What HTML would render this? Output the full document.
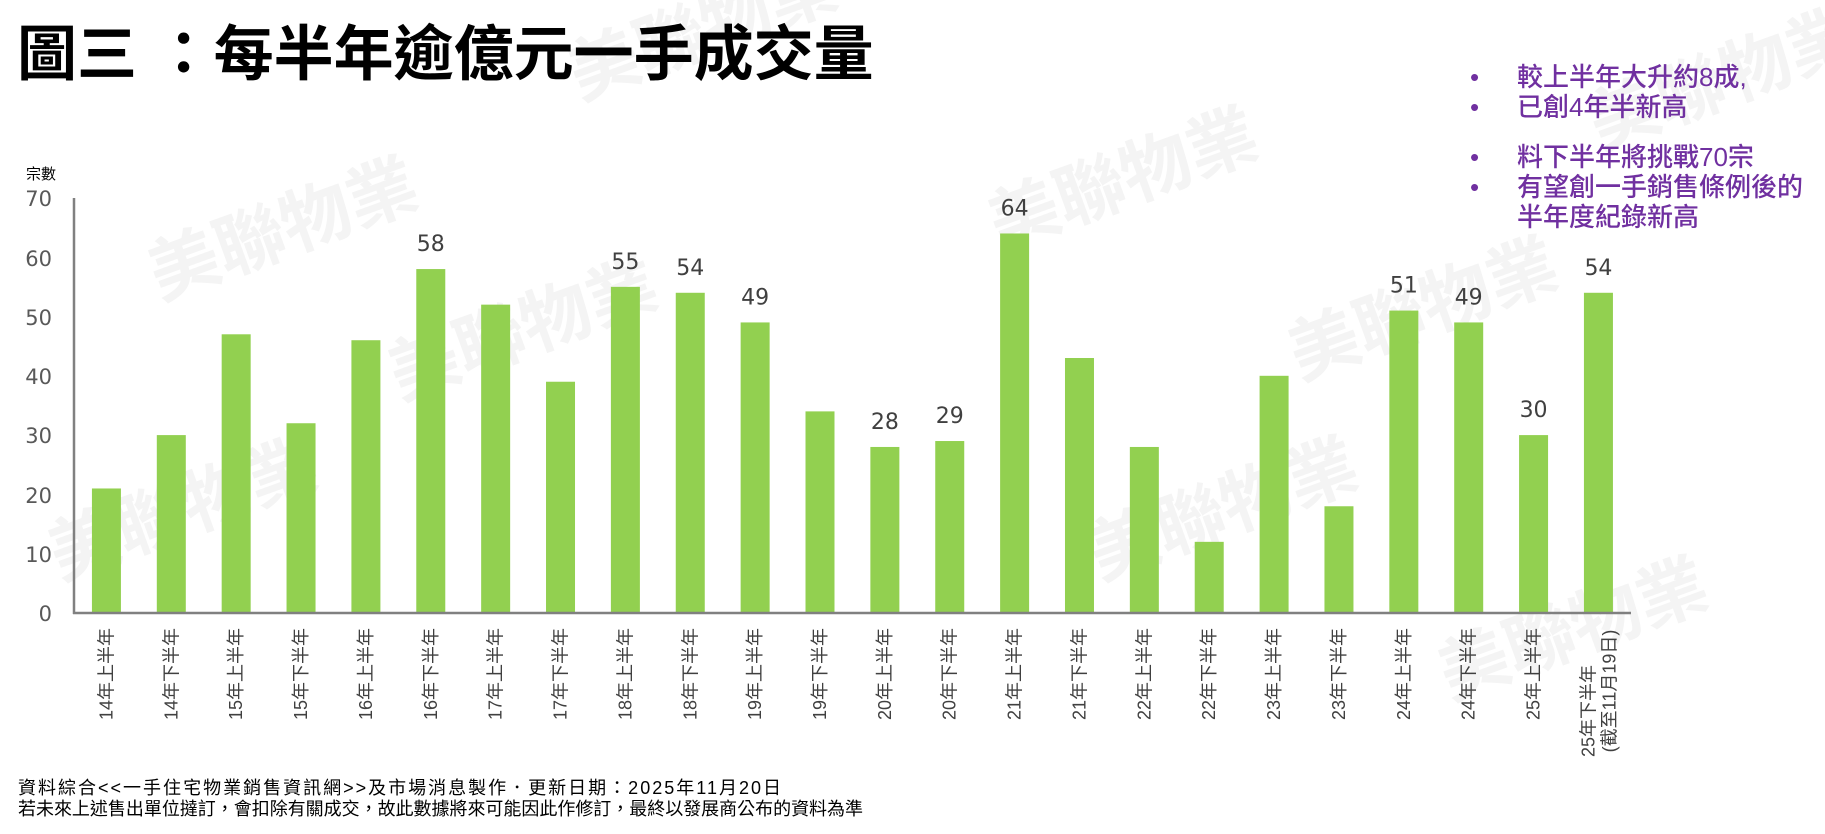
<!DOCTYPE html>
<html><head><meta charset="utf-8"><style>
body{margin:0;width:1825px;height:834px;background:#fff;overflow:hidden;font-family:"Liberation Sans","Noto Sans CJK TC",sans-serif;}
</style></head><body>
<svg width="1825" height="834" xmlns="http://www.w3.org/2000/svg" style="position:absolute;left:0;top:0">
<g fill="#f4f4f4" font-family="Liberation Sans, Noto Sans CJK TC, sans-serif" font-weight="bold" font-size="70">
<text transform="translate(160,300) rotate(-20)">美聯物業</text>
<text transform="translate(580,100) rotate(-20)">美聯物業</text>
<text transform="translate(1000,250) rotate(-20)">美聯物業</text>
<text transform="translate(1300,380) rotate(-20)">美聯物業</text>
<text transform="translate(400,400) rotate(-20)">美聯物業</text>
<text transform="translate(60,580) rotate(-20)">美聯物業</text>
<text transform="translate(1100,580) rotate(-20)">美聯物業</text>
<text transform="translate(1450,700) rotate(-20)">美聯物業</text>
<text transform="translate(1600,150) rotate(-20)">美聯物業</text>
</g>
<text x="17" y="75" font-family="Liberation Sans, Noto Sans CJK TC, sans-serif" font-weight="bold" font-size="60" fill="#000">圖三 ：每半年逾億元一手成交量</text>
<text x="26" y="179" font-family="Liberation Sans, Noto Sans CJK TC, sans-serif" font-size="15" fill="#000">宗數</text>
<g font-family="DejaVu Sans, Liberation Sans, sans-serif" font-size="21" fill="#595959" text-anchor="end">
<text x="52" y="206">70</text><text x="52" y="266">60</text><text x="52" y="325">50</text><text x="52" y="384">40</text><text x="52" y="443">30</text><text x="52" y="503">20</text><text x="52" y="562">10</text><text x="52" y="621">0</text>
</g>
<g id="bars" fill="#92D050"></g>
<g id="vals" font-family="DejaVu Sans, Liberation Sans, sans-serif" font-size="22" fill="#404040" text-anchor="middle"></g>
<g id="cats" font-family="Liberation Sans, Noto Sans CJK TC, sans-serif" font-size="18" fill="#404040"></g>
<line x1="74" y1="198" x2="74" y2="614" stroke="#808080" stroke-width="2.5"/>
<line x1="73" y1="613" x2="1631" y2="613" stroke="#808080" stroke-width="2.5"/>
<g font-family="Liberation Sans, Noto Sans CJK TC, sans-serif" font-size="26" fill="#7030A0" font-weight="500">
<text x="1470" y="86">•</text><text x="1517" y="86">較上半年大升約8成,</text>
<text x="1470" y="116">•</text><text x="1517" y="116">已創4年半新高</text>
<text x="1470" y="166">•</text><text x="1517" y="166">料下半年將挑戰70宗</text>
<text x="1470" y="196">•</text><text x="1517" y="196">有望創一手銷售條例後的</text>
<text x="1517" y="226">半年度紀錄新高</text>
</g>
<g font-family="Liberation Sans, Noto Sans CJK TC, sans-serif" font-size="18" fill="#000">
<text x="18" y="794" textLength="763" lengthAdjust="spacing">資料綜合&lt;&lt;一手住宅物業銷售資訊網&gt;&gt;及市場消息製作．更新日期：2025年11月20日</text>
<text x="18" y="815" textLength="845" lengthAdjust="spacing">若未來上述售出單位撻訂，會扣除有關成交，故此數據將來可能因此作修訂，最終以發展商公布的資料為準</text>
</g>
</svg>
<script>
const v=[21,30,47,32,46,58,52,39,55,54,49,34,28,29,64,43,28,12,40,18,51,49,30,54];
const lab={5:1,8:1,9:1,10:1,12:1,13:1,14:1,20:1,21:1,22:1,23:1};
const ns="http://www.w3.org/2000/svg";
const b=document.getElementById('bars'),t=document.getElementById('vals'),c=document.getElementById('cats');
v.forEach((d,i)=>{
 const cx=74+32.43+i*64.87, h=d*5.93, y=613-h;
 const r=document.createElementNS(ns,'rect');
 r.setAttribute('x',cx-14.5);r.setAttribute('y',y);r.setAttribute('width',29);r.setAttribute('height',h);b.appendChild(r);
 if(lab[i]){const e=document.createElementNS(ns,'text');e.setAttribute('x',cx);e.setAttribute('y',y-18);e.textContent=d;t.appendChild(e);}
 const yr=14+Math.floor(i/2), hf=i%2?'下':'上';
 if(i<23){
  const e=document.createElementNS(ns,'text');
  e.setAttribute('transform',`translate(${cx+6},628) rotate(-90)`);e.setAttribute('text-anchor','end');
  e.textContent=yr+'年'+hf+'半年';c.appendChild(e);
 } else {
  const e=document.createElementNS(ns,'text');
  e.setAttribute('transform',`translate(${cx-4},${628+83}) rotate(-90)`);e.setAttribute('text-anchor','middle');
  e.textContent='25年下半年';c.appendChild(e);
  const f=document.createElementNS(ns,'text');
  f.setAttribute('transform',`translate(${cx+17},${628+63}) rotate(-90)`);f.setAttribute('text-anchor','middle');
  f.textContent='(截至11月19日)';c.appendChild(f);
 }
});
</script>
</body></html>
